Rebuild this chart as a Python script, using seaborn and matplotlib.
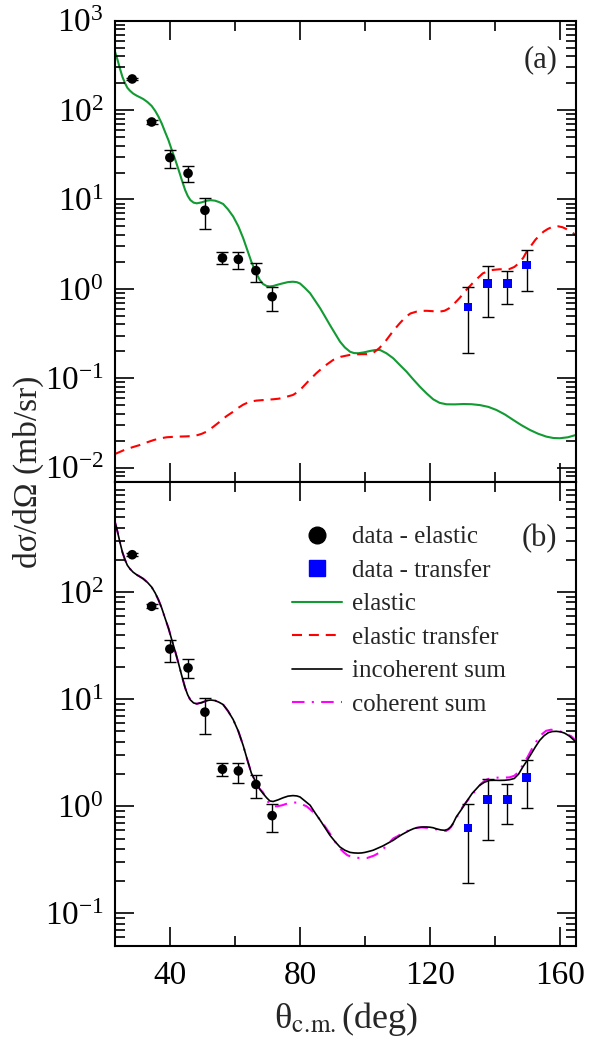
import numpy as np
import matplotlib
matplotlib.use('Agg')
import matplotlib.pyplot as plt
import matplotlib.ticker as mticker
from matplotlib.lines import Line2D
import seaborn as sns

# measured data - elastic
el_x = [28.3, 34.3, 39.9, 45.5, 50.7, 56.1, 61.0, 66.4, 71.4]
el_y = [223, 73.6, 29.4, 19.6, 7.57, 2.22, 2.14, 1.60, 0.818]
el_lo = [215, 70.5, 22.3, 15.8, 4.71, 1.90, 1.66, 1.20, 0.57]
el_hi = [231, 77.0, 36.0, 23.5, 10.3, 2.56, 2.56, 1.96, 1.06]

# measured data - transfer
tr_x = [131.7, 137.8, 143.8, 149.8]
tr_y = [0.627, 1.156, 1.156, 1.85]
tr_lo = [0.192, 0.489, 0.678, 0.955]
tr_hi = [1.06, 1.81, 1.60, 2.72]

# elastic curve, log10 values
elc_x = [23, 23.8, 24.5, 25.3, 26.1, 26.8, 27.6, 28.6, 29.7, 30.7, 31.7, 33, 34.3, 35.4,
         36.4, 37.4, 38.4, 39.5, 40.5, 41.6, 42.6, 43.6, 44.6, 45.4, 46.2, 47.2, 48.2,
         49.7, 51.3, 52.5, 53.8, 55, 56.3, 57.8, 59.4, 61, 62.5, 63.8, 65, 66.3, 67.6,
         68.6, 69.7, 70.7, 71.7, 73.2, 74.8, 76.3, 77.8, 79, 80, 81.5, 83.1, 84.6, 86.2,
         87.7, 89.2, 90.8, 92.3, 93.8, 95.4, 96.6, 97.9, 99.7, 101.5, 103, 104.6, 106.6,
         108.7, 110.7, 112.8, 114.8, 116.9, 119, 121, 123, 125.1, 127.7, 130.3, 132.8,
         135.4, 138, 140.5, 143.1, 145.7, 148.2, 150.8, 153.3, 155.9, 158, 160, 162.5, 165]
elc_log = [2.653, 2.56, 2.467, 2.37, 2.30, 2.25, 2.217, 2.185, 2.161, 2.143, 2.124, 2.09,
           2.046, 1.99, 1.926, 1.85, 1.758, 1.66, 1.553, 1.44, 1.33, 1.215, 1.106, 1.04,
           0.994, 0.965, 0.957, 0.968, 0.987, 0.992, 0.987, 0.972, 0.95, 0.89, 0.81, 0.70,
           0.566, 0.43, 0.304, 0.19, 0.10, 0.055, 0.032, 0.027, 0.032, 0.048, 0.063, 0.076,
           0.08, 0.075, 0.06, 0.01, -0.049, -0.13, -0.217, -0.31, -0.404, -0.50, -0.59,
           -0.655, -0.703, -0.718, -0.72, -0.71, -0.695, -0.685, -0.683, -0.72, -0.776,
           -0.85, -0.926, -1.01, -1.094, -1.17, -1.235, -1.275, -1.291, -1.292, -1.288,
           -1.29, -1.30, -1.32, -1.355, -1.405, -1.467, -1.525, -1.578, -1.62, -1.653,
           -1.668, -1.671, -1.66, -1.634]

# elastic transfer curve, log10 values
trc_x = [23, 26, 28.5, 30.7, 33, 35, 37, 38.9, 41, 43, 45, 47.1, 48.5, 49.8, 51.2, 53.2,
         55.3, 57.3, 59.4, 61, 62.5, 64.5, 66.5, 68.5, 70, 71.7, 73.5, 75, 76.5, 77.8, 79,
         80, 82.5, 85, 87.5, 90.2, 92.5, 95.3, 97, 99, 100.7, 102.4, 104.5, 106.6, 108.7,
         110.7, 112.5, 114, 115.8, 117.5, 119, 121, 122.9, 124.5, 125.8, 127.1, 129.2,
         131.2, 133.7, 136.3, 138.8, 141.4, 143, 144.5, 146, 147.5, 148.8, 150, 151.3,
         152.5, 153.8, 155, 156.3, 157.5, 158.5, 159.5, 160.8, 162, 163.5, 165]
trc_log = [-1.847, -1.80, -1.77, -1.746, -1.715, -1.69, -1.672, -1.66, -1.655, -1.652,
           -1.65, -1.645, -1.635, -1.62, -1.597, -1.545, -1.485, -1.425, -1.374, -1.33,
           -1.295, -1.262, -1.25, -1.244, -1.24, -1.235, -1.228, -1.215, -1.20, -1.187,
           -1.16, -1.131, -1.035, -0.944, -0.865, -0.795, -0.76, -0.739, -0.733, -0.73,
           -0.73, -0.72, -0.66, -0.572, -0.47, -0.385, -0.315, -0.275, -0.255, -0.246,
           -0.245, -0.25, -0.255, -0.245, -0.22, -0.18, -0.10, -0.012, 0.085, 0.174, 0.21,
           0.219, 0.22, 0.222, 0.245, 0.29, 0.35, 0.43, 0.49, 0.55, 0.60, 0.64, 0.67, 0.69,
           0.698, 0.70, 0.69, 0.67, 0.64, 0.60]

# incoherent sum, log10 values
inc_x = [23, 23.8, 24.5, 25.3, 26.1, 26.8, 27.6, 28.6, 29.7, 30.7, 31.7, 33, 34.3, 35.4,
         36.4, 37.4, 38.4, 39.5, 40.5, 41.6, 42.6, 43.6, 44.6, 45.4, 46.2, 47.2, 48.2,
         49.7, 51.3, 52.5, 53.8, 55, 56.3, 57.8, 59.4, 61, 62.5, 63.8, 65, 66.3, 67.6,
         68.6, 69.7, 70.7, 71.7, 73.2, 74.8, 76.3, 77.8, 79, 80, 81.5, 83.1, 84.6, 86.2,
         87.7, 89.2, 90.8, 92.3, 93.8, 95.4, 96.6, 97.9, 99, 100, 101.3, 102.5, 104, 105.5,
         107, 108.7, 110, 111.3, 112.5, 113.8, 115, 116, 117, 117.9, 119, 120, 121, 122,
         123.3, 124.5, 125.5, 126.5, 127.3, 128.1, 129.7, 131.2, 133, 135.3, 136.8, 138.4,
         140, 141.5, 143, 144.5, 146, 147.3, 148.6, 150, 151.3, 152.5, 153.8, 155.2, 156.5,
         157.7, 158.9, 160.3, 161.5, 163, 165]
inc_log = [2.653, 2.56, 2.467, 2.37, 2.30, 2.25, 2.217, 2.185, 2.161, 2.143, 2.124, 2.09,
           2.046, 1.99, 1.926, 1.85, 1.758, 1.66, 1.553, 1.44, 1.33, 1.215, 1.106, 1.04,
           0.994, 0.965, 0.957, 0.968, 0.987, 0.992, 0.987, 0.972, 0.95, 0.89, 0.81, 0.70,
           0.566, 0.43, 0.31, 0.23, 0.16, 0.12, 0.08, 0.05, 0.045, 0.06, 0.08, 0.095, 0.10,
           0.097, 0.087, 0.05, 0.01, -0.06, -0.13, -0.20, -0.27, -0.33, -0.38, -0.41, -0.43,
           -0.435, -0.437, -0.435, -0.43, -0.42, -0.41, -0.39, -0.37, -0.345, -0.317, -0.29,
           -0.265, -0.245, -0.224, -0.208, -0.2, -0.195, -0.193, -0.193, -0.195, -0.2, -0.21,
           -0.22, -0.224, -0.215, -0.19, -0.15, -0.1, -0.03, 0.04, 0.12, 0.196, 0.225, 0.242,
           0.243, 0.242, 0.243, 0.248, 0.26, 0.30, 0.366, 0.43, 0.495, 0.555, 0.615, 0.66,
           0.688, 0.698, 0.70, 0.695, 0.683, 0.655, 0.60]

# coherent sum, log10 values
coh_x = [23, 23.8, 24.5, 25.3, 26.1, 26.8, 27.6, 28.6, 29.7, 30.7, 31.7, 33, 34.3, 35.4,
         36.4, 37.4, 38.4, 39.5, 40.5, 41.6, 42.6, 43.6, 44.6, 45.4, 46.2, 47.2, 48.2,
         49.7, 51.3, 52.5, 53.8, 55, 56.3, 57.8, 59.4, 61, 62.5, 63.8, 65, 66.3, 67.6,
         68.6, 69.7, 70.7, 71.7, 73, 74.5, 76, 77.5, 79, 80.5, 82, 83.2, 84.4, 85.5, 86.7,
         87.8, 89.2, 90.5, 91.5, 92.5, 93.5, 94.6, 96, 97.5, 99, 100.7, 102.8, 104.8, 106.5,
         108.7, 110, 111, 112.5, 113.8, 116, 117.5, 118.9, 120.5, 122, 123.5, 125, 126, 127,
         128.5, 130.2, 131.6, 133, 134.5, 135.9, 137.2, 138.4, 140, 141.5, 143, 144.5, 146,
         147.3, 148.6, 150, 151.5, 153, 154.4, 155.8, 157.3, 158.9, 160.5, 162, 163.5, 165]
coh_log = [2.653, 2.56, 2.467, 2.37, 2.30, 2.25, 2.217, 2.185, 2.161, 2.143, 2.124, 2.09,
           2.046, 1.99, 1.926, 1.85, 1.758, 1.66, 1.553, 1.44, 1.33, 1.215, 1.106, 1.04,
           0.994, 0.965, 0.957, 0.968, 0.987, 0.992, 0.987, 0.972, 0.95, 0.89, 0.81, 0.70,
           0.566, 0.43, 0.31, 0.23, 0.16, 0.13, 0.06, 0.02, 0.0, 0.0, 0.01, 0.025, 0.035,
           0.035, 0.02, 0.0, -0.03, -0.065, -0.10, -0.145, -0.193, -0.255, -0.317, -0.36,
           -0.40, -0.43, -0.457, -0.472, -0.48, -0.484, -0.482, -0.46, -0.426, -0.37, -0.30,
           -0.28, -0.26, -0.24, -0.22, -0.2, -0.197, -0.2, -0.207, -0.215, -0.225, -0.23,
           -0.21, -0.17, -0.09, 0.0, 0.055, 0.11, 0.165, 0.215, 0.245, 0.26, 0.267, 0.268,
           0.268, 0.27, 0.285, 0.32, 0.385, 0.455, 0.54, 0.615, 0.67, 0.705, 0.715, 0.71,
           0.695, 0.675, 0.655, 0.61]

green = '#129a33'
red = '#ff0000'
blue = '#0000ff'
magenta = '#ff00ff'
dash_tr = (0, (4.8, 3.3))
dash_coh = (0, (6, 3.5, 1, 3.5))

sns.set_theme(style='ticks')
plt.rcParams['font.family'] = ['Liberation Serif', 'DejaVu Serif']
plt.rcParams['mathtext.fontset'] = 'stix'
plt.rcParams.update({
    'axes.axisbelow': False,
    'axes.edgecolor': 'black',
    'xtick.color': 'black', 'ytick.color': 'black',
    'xtick.direction': 'in', 'ytick.direction': 'in',
    'xtick.top': True, 'ytick.right': True,
    'xtick.major.size': 13.5, 'ytick.major.size': 13.5,
    'xtick.minor.size': 7, 'ytick.minor.size': 7,
    'xtick.major.width': 1.2, 'ytick.major.width': 1.2,
    'xtick.minor.width': 1.2, 'ytick.minor.width': 1.2,
})

fig = plt.figure(figsize=(6.1, 10.46), dpi=100)
W, H = 610, 1046
ax1 = fig.add_axes([115 / W, 1 - 481.7 / H, 461 / W, 461 / H])
ax2 = fig.add_axes([115 / W, 1 - 945.7 / H, 461 / W, 464 / H])


def draw_data(ax):
    ey = [np.array(el_y) - np.array(el_lo), np.array(el_hi) - np.array(el_y)]
    ax.errorbar(el_x, el_y, yerr=ey, fmt='none', ecolor='black', elinewidth=1,
                capsize=4, capthick=1, zorder=3)
    ety = [np.array(tr_y) - np.array(tr_lo), np.array(tr_hi) - np.array(tr_y)]
    ax.errorbar(tr_x, tr_y, yerr=ety, fmt='none', ecolor='black', elinewidth=1,
                capsize=4, capthick=1, zorder=3)
    sns.scatterplot(x=el_x, y=el_y, ax=ax, color='black', marker='o', s=48,
                    edgecolor='none', zorder=4)
    sns.scatterplot(x=tr_x, y=tr_y, ax=ax, color=blue, marker='s', s=40,
                    edgecolor='none', zorder=4)


# panel (a)
sns.lineplot(x=elc_x, y=10 ** np.array(elc_log), ax=ax1, color=green, lw=1.5,
             sort=False, estimator=None)
sns.lineplot(x=trc_x, y=10 ** np.array(trc_log), ax=ax1, color=red, lw=1.5,
             sort=False, estimator=None, linestyle=dash_tr)
draw_data(ax1)

# panel (b)
sns.lineplot(x=coh_x, y=10 ** np.array(coh_log), ax=ax2, color=magenta, lw=1.5,
             sort=False, estimator=None, linestyle=dash_coh)
sns.lineplot(x=inc_x, y=10 ** np.array(inc_log), ax=ax2, color='black', lw=1.2,
             sort=False, estimator=None)
draw_data(ax2)

for ax in (ax1, ax2):
    ax.set_yscale('log')
    ax.set_xlim(23, 165)
    ax.xaxis.set_major_locator(mticker.FixedLocator([40, 80, 120, 160]))
    ax.xaxis.set_minor_locator(mticker.FixedLocator([60, 100, 140]))
    ax.yaxis.set_minor_locator(mticker.LogLocator(base=10, subs=np.arange(2, 10), numticks=30))
    ax.yaxis.set_minor_formatter(mticker.NullFormatter())
    ax.tick_params(which='both', direction='in', top=True, right=True, color='black')
    ax.tick_params(which='major', length=13.5, width=1.2, labelsize=24, pad=8)
    ax.tick_params(which='minor', length=7, width=1.2)
    for s in ax.spines.values():
        s.set_linewidth(1.5)
        s.set_color('black')

ax1.set_ylim(10 ** -2.157, 1e3)
ax1.yaxis.set_major_locator(mticker.FixedLocator([1e-2, 1e-1, 1, 10, 100, 1000]))
ax1.yaxis.set_major_formatter(mticker.LogFormatterSciNotation())
ax1.tick_params(axis='x', labelbottom=False)

ax2.set_ylim(0.05, 10 ** 3.03)
ax2.yaxis.set_major_locator(mticker.FixedLocator([0.1, 1, 10, 100]))
ax2.yaxis.set_major_formatter(mticker.LogFormatterSciNotation())
ax2.tick_params(axis='x', pad=11)

ax1.text(0.96, 0.915, '(a)', transform=ax1.transAxes, ha='right', va='center', fontsize=22)
ax2.text(0.96, 0.877, '(b)', transform=ax2.transAxes, ha='right', va='center', fontsize=22)

ax2.set_xlabel(r'θ$_{\mathrm{c.\!m.}}$(deg)', fontsize=26, labelpad=6)
fig.text(28 / W, 1 - 472 / H, 'dσ/dΩ (mb/sr)', rotation=90, ha='center', va='center',
         fontsize=24)

handles = [
    Line2D([], [], ls='none', marker='o', color='black', markersize=12),
    Line2D([], [], ls='none', marker='s', color=blue, markersize=12),
    Line2D([], [], color=green, lw=1.5),
    Line2D([], [], color=red, lw=1.5, linestyle=dash_tr),
    Line2D([], [], color='black', lw=1.2),
    Line2D([], [], color=magenta, lw=1.5, linestyle=dash_coh),
]
labels = ['data - elastic', 'data - transfer', 'elastic', 'elastic transfer',
          'incoherent sum', 'coherent sum']
ax2.legend(handles, labels, loc='upper left', bbox_to_anchor=(0.384, 0.905),
           frameon=False, fontsize=18, handlelength=2.0, handletextpad=0.4,
           labelspacing=0.44, borderpad=0, borderaxespad=0)

fig.savefig('out.png', dpi=100)
